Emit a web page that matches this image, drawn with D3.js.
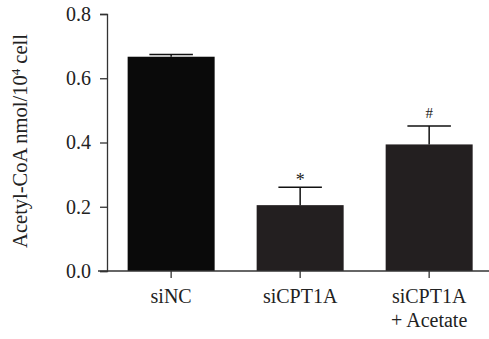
<!DOCTYPE html>
<html><head><meta charset="utf-8">
<script src="https://cdn.jsdelivr.net/npm/d3@7"></script>
<style>body{margin:0;background:#fff}svg{display:block}svg text{font-family:'Liberation Serif','DejaVu Serif',serif}</style>
</head><body>
<script>
const categories = [["siNC"], ["siCPT1A"], ["siCPT1A", "+ Acetate"]];
const means = [0.667, 0.205, 0.394];
const errors = [0.007, 0.056, 0.057];
const marks = ["", "*", "#"];
const yTicks = [0, 0.2, 0.4, 0.6, 0.8];
const barColors = ["#0a0a0a", "#231f20", "#231f20"];

const W = 489, H = 339;
const svg = d3.select("body").append("svg").attr("width", W).attr("height", H);

const y = d3.scaleLinear().domain([0, 0.8]).range([271, 14]);
const x = d3.scaleBand().domain(d3.range(categories.length)).range([107, 493.3]).paddingInner(0.3256).paddingOuter(0.16);

// bars
svg.selectAll("rect.bar").data(means).join("rect")
  .attr("x", (d, i) => x(i)).attr("width", x.bandwidth())
  .attr("y", d => y(d)).attr("height", d => y(0) - y(d))
  .attr("fill", (d, i) => barColors[i]);

// error bars
const eg = svg.append("g").attr("stroke", "#111").attr("stroke-width", 1.5);
means.forEach((m, i) => {
  const cx = x(i) + x.bandwidth() / 2;
  eg.append("line").attr("x1", cx).attr("x2", cx).attr("y1", y(m)).attr("y2", y(m + errors[i]));
  eg.append("line").attr("x1", cx - x.bandwidth() / 4).attr("x2", cx + x.bandwidth() / 4)
    .attr("y1", y(m + errors[i])).attr("y2", y(m + errors[i]));
  if (marks[i]) svg.append("text").attr("x", cx).attr("y", y(m + errors[i]) - (marks[i] === "*" ? 1 : 8))
    .attr("text-anchor", "middle").attr("font-size", marks[i] === "*" ? 18 : 15).attr("fill", "#222").text(marks[i]);
});

// y axis
const ya = svg.append("g").attr("transform", "translate(107,0)")
  .call(d3.axisLeft(y).tickValues(yTicks).tickFormat(d3.format(".1f")).tickSizeOuter(0).tickSize(7));
ya.attr("font-family", null);
ya.select(".domain").attr("stroke", "#333").attr("stroke-width", 1.3);
ya.selectAll(".tick line").attr("stroke", "#333").attr("stroke-width", 1.3);
ya.selectAll("text").attr("font-size", 20).attr("fill", "#222").attr("dx", "-6");

// x axis
svg.append("line").attr("x1", 98).attr("x2", 489).attr("y1", y(0)).attr("y2", y(0)).attr("stroke", "#333").attr("stroke-width", 1.3);
categories.forEach((c, i) => {
  const cx = x(i) + x.bandwidth() / 2;
  svg.append("line").attr("x1", cx).attr("x2", cx).attr("y1", y(0)).attr("y2", y(0) + 7).attr("stroke", "#333").attr("stroke-width", 1.3);
  const t = svg.append("text").attr("x", cx).attr("y", 303).attr("text-anchor", "middle")
    .attr("font-size", 20).attr("fill", "#222");
  c.forEach((line, j) => t.append("tspan").attr("x", cx).attr("dy", j ? 24 : 0).text(line));
});

// y title
const yt = svg.append("text").attr("transform", "translate(27,141) rotate(-90)").attr("text-anchor", "middle")
  .attr("font-size", 20.5).attr("fill", "#222");
yt.append("tspan").text("Acetyl-CoA nmol/10");
yt.append("tspan").attr("dy", -7).attr("font-size", 13).text("4");
yt.append("tspan").attr("dy", 7).text(" cell");
</script>
</body></html>
